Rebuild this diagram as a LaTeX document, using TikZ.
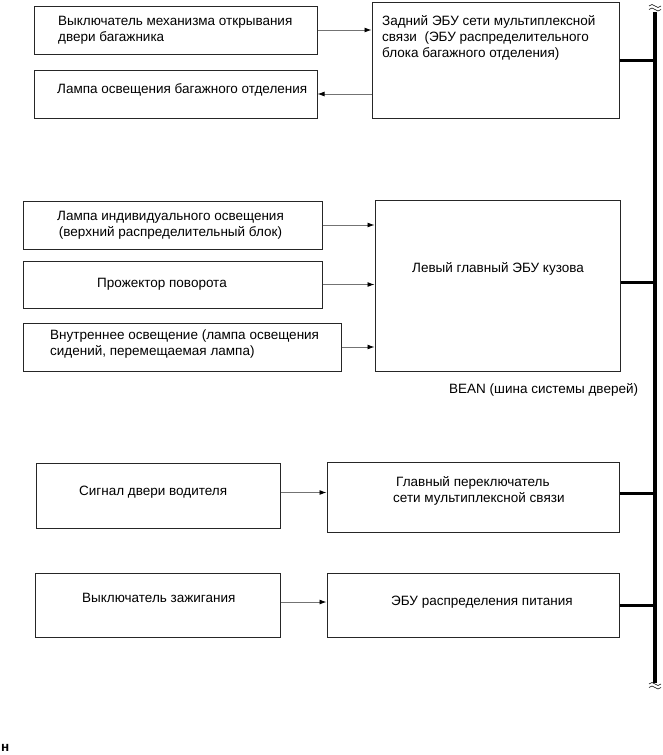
\documentclass[tikz,border=0pt]{standalone}
\usepackage{fontspec}
\setmainfont{Liberation Sans}
\usetikzlibrary{arrows.meta}
\begin{document}
\begin{tikzpicture}[x=1pt,y=-1pt,
  box/.style={draw=black!85, line width=1pt, inner sep=0pt},
  txt/.style={font=\fontsize{13.5}{16}\selectfont, inner sep=0pt, anchor=west, align=left},
  arr/.style={draw=black!55, line width=0.9pt, -{Latex[length=7pt,width=5pt,color=black]}},
  busline/.style={line width=3.6pt},
  tap/.style={line width=3pt},
  wave/.style={line width=0.6pt}
]
\useasboundingbox (0,0) rectangle (662,755);

% boxes
\node[box, minimum width=283pt, minimum height=48pt] (b1) at (175.5,30) {};
\node[box, minimum width=283pt, minimum height=48pt] (b2) at (175.5,94) {};
\node[box, minimum width=247pt, minimum height=116pt] (b3) at (495.5,60) {};
\node[box, minimum width=299pt, minimum height=48pt] (b4) at (172.5,225) {};
\node[box, minimum width=299pt, minimum height=47pt] (b5) at (172.5,284.5) {};
\node[box, minimum width=318pt, minimum height=48pt] (b6) at (182,347) {};
\node[box, minimum width=245pt, minimum height=171pt] (b7) at (497.5,285.5) {};
\node[box, minimum width=244pt, minimum height=65pt] (b8) at (158,495.5) {};
\node[box, minimum width=292pt, minimum height=70pt] (b9) at (473,497) {};
\node[box, minimum width=245pt, minimum height=64pt] (b10) at (157.5,605) {};
\node[box, minimum width=292pt, minimum height=64pt] (b11) at (473,605) {};

% texts
\node[txt] (t1) at (58,30) {Выключатель механизма открывания\\двери багажника};
\node[txt] (t2) at (57,90) {Лампа освещения багажного отделения};
\node[txt] (t3) at (382,37.5) {Задний ЭБУ сети мультиплексной\\связи \ (ЭБУ распределительного\\блока багажного отделения)};
\node[txt, anchor=center, align=center] (t4) at (170.5,225.5) {Лампа индивидуального освещения\\(верхний распределительный блок)};
\node[txt] (t5) at (97,284) {Прожектор поворота};
\node[txt] (t6) at (50,344.5) {Внутреннее освещение (лампа освещения\\сидений, перемещаемая лампа)};
\node[txt] (t7) at (412,269) {Левый главный ЭБУ кузова};
\node[txt] (tbean) at (449,390) {BEAN (шина системы дверей)};
\node[txt] (t8) at (79,492) {Сигнал двери водителя};
\node[txt] (t9) at (393,490.5) {\hspace{3pt}Главный переключатель\\сети мультиплексной связи};
\node[txt] (t10) at (82,598) {Выключатель зажигания};
\node[txt] (t11) at (391,602) {ЭБУ распределения питания};
\node[txt, font=\fontsize{13.5}{16}\selectfont\bfseries] (tn) at (1,748) {н};

% arrows
\draw[arr] (b1.east) -- (b1.east -| b3.west);
\draw[arr] (b3.west |- b2.east) -- (b2.east);
\draw[arr] (b4.east) -- (b4.east -| b7.west);
\draw[arr] (b5.east) -- (b5.east -| b7.west);
\draw[arr] (b6.east) -- (b6.east -| b7.west);
\coordinate (a6s) at ([yshift=3pt]b8.east);
\draw[arr] (a6s) -- (a6s -| b9.west);
\coordinate (a7s) at ([yshift=3pt]b10.east);
\draw[arr] (a7s) -- (a7s -| b11.west);

% bus
\coordinate (bt) at (655,12);
\coordinate (bb) at (655,683);
\draw[busline] (bt) -- (bb);
\draw[tap] (b3.east) -- (b3.east -| bt);
\coordinate (c7) at ([yshift=3pt]b7.east);
\draw[tap] (c7) -- (c7 -| bt);
\coordinate (c9) at ([yshift=4pt]b9.east);
\draw[tap] (c9) -- (c9 -| bt);
\draw[tap] (b11.east) -- (b11.east -| bt);

% break marks
\draw[wave] (649,6) sin (652,4.5) cos (655,6) sin (658,7.5) cos (661,6);
\draw[wave] (649,9.5) sin (652,8) cos (655,9.5) sin (658,11) cos (661,9.5);
\draw[wave] (649,684) sin (652,682.5) cos (655,684) sin (658,685.5) cos (661,684);
\draw[wave] (649,687.5) sin (652,686) cos (655,687.5) sin (658,689) cos (661,687.5);
\end{tikzpicture}
\end{document}
